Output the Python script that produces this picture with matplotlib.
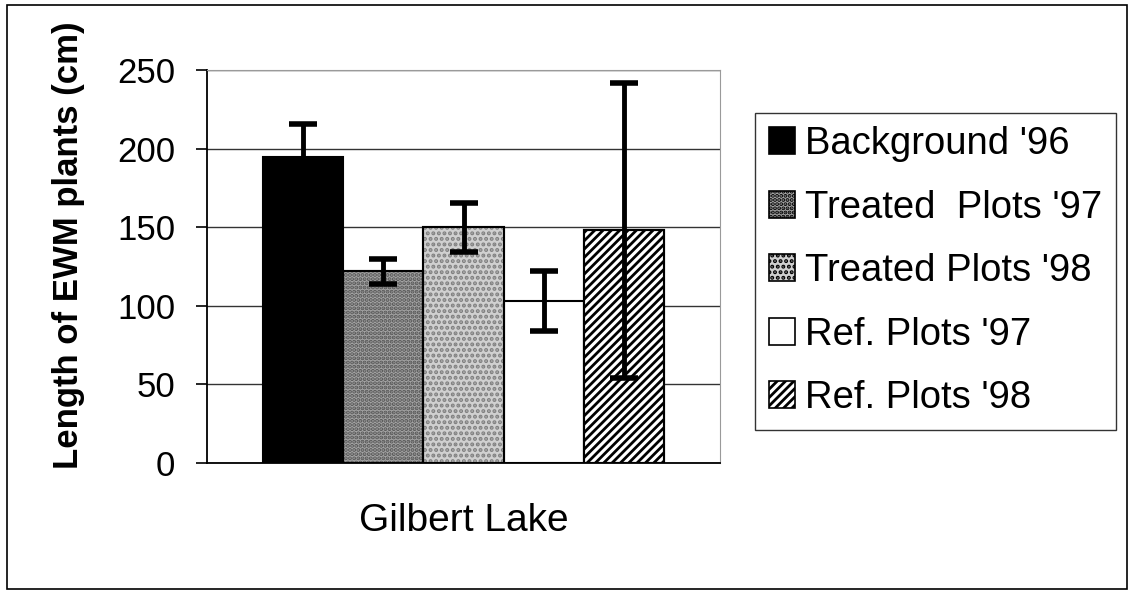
import matplotlib
matplotlib.use("Agg")
import matplotlib.pyplot as plt
from matplotlib.patches import Rectangle

plt.rcParams['font.family'] = ['Liberation Sans', 'DejaVu Sans']
plt.rcParams['hatch.linewidth'] = 2.0

# data
series = ["Background '96", "Treated  Plots '97", "Treated Plots '98", "Ref. Plots '97", "Ref. Plots '98"]
means = [195, 122, 150, 103, 148]
errs = [21, 8, 15.5, 19, 94]
category = "Gilbert Lake"
yticks = [0, 50, 100, 150, 200, 250]

fills = ["#000000", "#a4a4a4", "#d0d0d0", "#ffffff", "#ffffff"]
hatches = [None, "....", "...", None, "////"]
hcols = ["#000000", "#555555", "#808080", "#000000", "#000000"]

fig = plt.figure(figsize=(11.34, 5.94), dpi=100)
ax = fig.add_axes([0.1825, 0.2205, 0.4525, 0.6615])

w = 0.156
n = len(series)
handles = []
for i, (nm, m, e) in enumerate(zip(series, means, errs)):
    x = (i - (n - 1) / 2) * w
    b = ax.bar(x, m, width=w, color=fills[i], edgecolor="black", linewidth=1.5,
               hatch=hatches[i], zorder=2, label=nm)
    if hatches[i]:
        b[0].set_edgecolor(hcols[i])
        ax.bar(x, m, width=w, color="none", edgecolor="black", linewidth=1.5, zorder=2.1)
    ax.errorbar(x, m, yerr=e, fmt="none", ecolor="black", elinewidth=3.5,
                capsize=10, capthick=4, zorder=3)
    handles.append(Rectangle((0, 0), 1, 1, fc=fills[i], ec="black", lw=1.2, hatch=hatches[i]))

ax.set_xlim(-0.5, 0.5)
ax.set_ylim(0, 250)
ax.set_yticks(yticks)
ax.tick_params(axis='y', labelsize=25, length=8, width=1.2, direction='out', pad=15)
ax.set_xticks([0])
ax.set_xticklabels([category], fontsize=28)
ax.tick_params(axis='x', length=0, pad=29)
ax.yaxis.grid(True, color="#333333", linewidth=1.0, zorder=0)
for s in ["top", "right"]:
    ax.spines[s].set_color("#9a9a9a")
    ax.spines[s].set_linestyle((0, (3, 1)))
ax.spines["left"].set_linewidth(1.3)
ax.spines["bottom"].set_linewidth(1.3)
ax.set_ylabel("Length of EWM plants (cm)", fontsize=25, fontweight="bold")
ax.yaxis.set_label_coords(-0.237, 0.555)

leg = fig.legend(handles, series, loc="upper left", bbox_to_anchor=(0.666, 0.81),
                 fontsize=27.5, frameon=True, fancybox=False, handlelength=0.7,
                 handleheight=0.7, handletextpad=0.26, labelspacing=0.72,
                 borderpad=0.35, borderaxespad=0)
leg.get_frame().set_edgecolor("black")
leg.get_frame().set_linewidth(1.0)

fig.patches.append(Rectangle((0.006, 0.008), 0.988, 0.984, transform=fig.transFigure,
                             fill=False, ec="black", lw=1.2))

fig.savefig("out.png", dpi=100, facecolor="white")
